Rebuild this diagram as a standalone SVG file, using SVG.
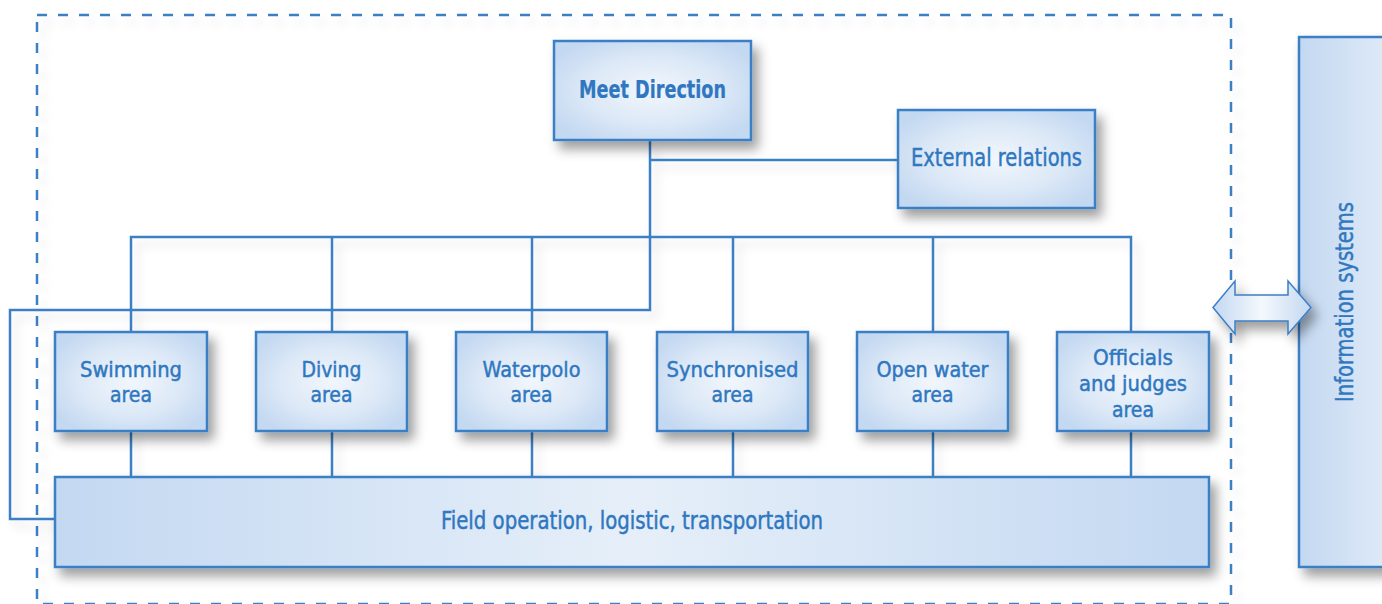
<svg xmlns="http://www.w3.org/2000/svg" width="1382" height="604" viewBox="0 0 1382 604">
<defs>
<radialGradient id="boxg" cx="50%" cy="50%" r="60%">
<stop offset="0" stop-color="#f1f6fc"/>
<stop offset="0.55" stop-color="#dde9f7"/>
<stop offset="1" stop-color="#c3d8f1"/>
</radialGradient>
<linearGradient id="wideg" x1="0" y1="0" x2="1" y2="0">
<stop offset="0" stop-color="#c3d8f1"/>
<stop offset="0.5" stop-color="#e6eff9"/>
<stop offset="1" stop-color="#c3d8f1"/>
</linearGradient>
<linearGradient id="infog" x1="0" y1="0" x2="1" y2="0">
<stop offset="0" stop-color="#c3d8f1"/>
<stop offset="1" stop-color="#e2ecf8"/>
</linearGradient>
<linearGradient id="arrg" x1="0" y1="0" x2="1" y2="0">
<stop offset="0" stop-color="#c3d8f1"/>
<stop offset="0.5" stop-color="#f4f8fd"/>
<stop offset="1" stop-color="#c3d8f1"/>
</linearGradient>
<filter id="sh" x="-20%" y="-20%" width="150%" height="160%">
<feDropShadow dx="6" dy="8" stdDeviation="6" flood-color="#000" flood-opacity="0.38"/>
</filter>
<filter id="lsh" x="-10%" y="-10%" width="130%" height="130%">
<feDropShadow dx="6" dy="7" stdDeviation="5" flood-color="#000" flood-opacity="0.12"/>
</filter>
</defs>
<style>
.box{fill:url(#boxg);stroke:#3a7fc5;stroke-width:2.5;filter:url(#sh)}
.ln{fill:none;stroke:#3a7fc5;stroke-width:2.5}
.t{font-family:"DejaVu Sans Condensed","Liberation Sans",sans-serif;font-stretch:condensed;fill:#2f77c0;stroke:#2f77c0;stroke-width:0.45;text-anchor:middle;font-size:24.5px}
.s{font-size:22px}
.b{font-weight:bold;stroke-width:0.2;font-size:24px}
</style>
<rect x="0" y="0" width="1382" height="604" fill="#ffffff"/>
<rect id="container" x="37" y="15" width="1194" height="589" fill="none" stroke="#3a7fc5" stroke-width="2.5" stroke-dasharray="10 11" filter="url(#lsh)"/>

<g id="connectors" filter="url(#lsh)">
<path class="ln" d="M650 140 V310 H10 V519 H55"/>
<path class="ln" d="M650 160 H898"/>
<path class="ln" d="M131 332 V237 H1131 V332"/>
<path class="ln" d="M332 237 V332 M532 237 V332 M733 237 V332 M933 237 V332"/>
<path class="ln" d="M131 431 V477 M332 431 V477 M532 431 V477 M733 431 V477 M933 431 V477 M1131 431 V477"/>
</g>

<g id="meet-direction">
<rect class="box" x="554" y="41" width="197" height="99"/>
<text class="t b" x="652.5" y="98" textLength="147" lengthAdjust="spacingAndGlyphs">Meet Direction</text>
</g>
<g id="external-relations">
<rect class="box" x="898" y="110" width="197" height="98"/>
<text class="t" x="996.5" y="166" textLength="171" lengthAdjust="spacingAndGlyphs">External relations</text>
</g>
<g id="swimming">
<rect class="box" x="55" y="332" width="152" height="99"/>
<text class="t s" x="131" y="377" textLength="102" lengthAdjust="spacingAndGlyphs">Swimming</text>
<text class="t s" x="131" y="402" textLength="42" lengthAdjust="spacingAndGlyphs">area</text>
</g>
<g id="diving">
<rect class="box" x="256" y="332" width="151" height="99"/>
<text class="t s" x="331.5" y="377" textLength="60" lengthAdjust="spacingAndGlyphs">Diving</text>
<text class="t s" x="331.5" y="402" textLength="42" lengthAdjust="spacingAndGlyphs">area</text>
</g>
<g id="waterpolo">
<rect class="box" x="456" y="332" width="151" height="99"/>
<text class="t s" x="531.5" y="377" textLength="98" lengthAdjust="spacingAndGlyphs">Waterpolo</text>
<text class="t s" x="531.5" y="402" textLength="42" lengthAdjust="spacingAndGlyphs">area</text>
</g>
<g id="synchronised">
<rect class="box" x="657" y="332" width="151" height="99"/>
<text class="t s" x="732.5" y="377" textLength="132" lengthAdjust="spacingAndGlyphs">Synchronised</text>
<text class="t s" x="732.5" y="402" textLength="42" lengthAdjust="spacingAndGlyphs">area</text>
</g>
<g id="open-water">
<rect class="box" x="857" y="332" width="151" height="99"/>
<text class="t s" x="932.5" y="377" textLength="112" lengthAdjust="spacingAndGlyphs">Open water</text>
<text class="t s" x="932.5" y="402" textLength="42" lengthAdjust="spacingAndGlyphs">area</text>
</g>
<g id="officials">
<rect class="box" x="1057" y="332" width="152" height="99"/>
<text class="t s" x="1133" y="365" textLength="80" lengthAdjust="spacingAndGlyphs">Officials</text>
<text class="t s" x="1133" y="391" textLength="108" lengthAdjust="spacingAndGlyphs">and judges</text>
<text class="t s" x="1133" y="417" textLength="42" lengthAdjust="spacingAndGlyphs">area</text>
</g>
<g id="field-operation">
<rect class="box" x="55" y="477" width="1154" height="90" style="fill:url(#wideg)"/>
<text class="t" x="632" y="529" textLength="382" lengthAdjust="spacingAndGlyphs">Field operation, logistic, transportation</text>
</g>
<g id="information-systems">
<rect class="box" x="1299" y="37" width="100" height="530" style="fill:url(#infog)"/>
<text class="t" transform="translate(1353 302) rotate(-90)" textLength="200" lengthAdjust="spacingAndGlyphs">Information systems</text>
</g>
<g id="double-arrow">
<path d="M1213 307.5 L1235 281 V295 H1288 V281 L1311 307.5 L1288 334 V321 H1235 V334 Z" fill="url(#arrg)" stroke="#3a7fc5" stroke-width="1.5" filter="url(#sh)"/>
</g>
</svg>
